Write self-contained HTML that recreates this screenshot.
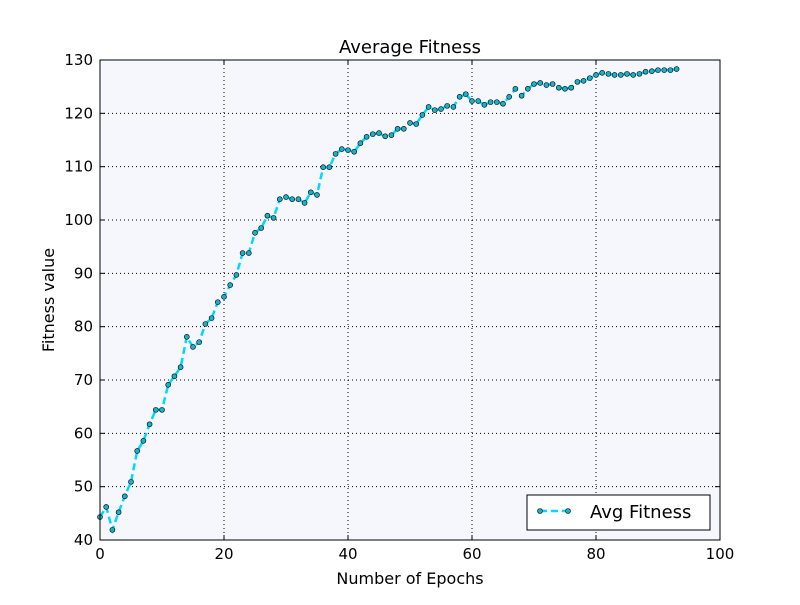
<!DOCTYPE html>
<html><head><meta charset="utf-8"><style>
body{margin:0;background:#fff}
svg text{font-family:"DejaVu Sans","Liberation Sans",sans-serif}
</style></head><body>
<svg id="chart" width="800" height="600" xmlns="http://www.w3.org/2000/svg">
<rect x="0" y="0" width="800" height="600" fill="#fff"/>
<rect x="100" y="60" width="620" height="480" fill="#f5f7fc"/>
<g id="grid"></g>
<g id="series"></g>
<rect x="100" y="60" width="620" height="480" fill="none" stroke="#000" stroke-width="1"/>
<g id="ticks"></g>
<text x="410" y="53" font-size="18" text-anchor="middle">Average Fitness</text>
<text x="410" y="584" font-size="16" text-anchor="middle">Number of Epochs</text>
<text x="54" y="300" font-size="16" text-anchor="middle" transform="rotate(-90 54 300)">Fitness value</text>
<g>
<rect x="527" y="495" width="183" height="35" fill="#fff" stroke="#000"/>
<line x1="540" y1="511" x2="568" y2="511" stroke="#00d8ff" stroke-width="2.5" stroke-dasharray="7,4"/>
<circle cx="540" cy="511" r="2.5" fill="#1ab0c8" stroke="#000" stroke-width="0.6"/>
<circle cx="568" cy="511" r="2.5" fill="#1ab0c8" stroke="#000" stroke-width="0.6"/>
<text x="590" y="518" font-size="18">Avg Fitness</text>
</g>
</svg>
<script>
const fitness=[44.3,46.2,41.9,45.2,48.2,50.9,56.7,58.6,61.7,64.4,64.4,69.1,70.7,72.4,78.1,76.2,77.1,80.5,81.6,84.6,85.6,87.8,89.7,93.8,93.8,97.6,98.5,100.8,100.4,103.9,104.3,103.9,103.9,103.2,105.2,104.7,109.9,109.9,112.4,113.3,113.1,112.8,114.4,115.6,116.1,116.3,115.7,115.9,117.1,117.1,118.2,118.0,119.7,121.2,120.6,120.8,121.4,121.2,123.1,123.6,122.3,122.3,121.6,122.1,122.1,121.8,123.1,124.6,123.3,124.6,125.5,125.7,125.3,125.5,124.8,124.6,124.8,125.9,126.1,126.6,127.2,127.6,127.4,127.2,127.2,127.4,127.2,127.4,127.8,127.9,128.1,128.1,128.1,128.3];
const xTicks=[0,20,40,60,80,100];
const yTicks=[40,50,60,70,80,90,100,110,120,130];
const NS="http://www.w3.org/2000/svg";
const X=v=>100+v*6.2, Y=v=>540-(v-40)*480/90;
function mk(t,a,p){const e=document.createElementNS(NS,t);for(const k in a)e.setAttribute(k,a[k]);p.appendChild(e);return e;}
const grid=document.getElementById('grid'),ticks=document.getElementById('ticks'),ser=document.getElementById('series');
xTicks.forEach(v=>{
 if(v>0&&v<100){const g=mk('line',{x1:X(v),x2:X(v),y1:60,y2:540,stroke:'#000','stroke-dasharray':'1,3','stroke-width':1},grid);
 
 }
 mk('line',{x1:X(v),x2:X(v),y1:540,y2:535,stroke:'#000'},ticks);
 mk('line',{x1:X(v),x2:X(v),y1:60,y2:65,stroke:'#000'},ticks);
 const t=mk('text',{x:X(v),y:559,'font-size':15,'text-anchor':'middle'},ticks);t.textContent=v;
 
 
});
yTicks.forEach(v=>{
 if(v>40&&v<130){const g=mk('line',{x1:100,x2:720,y1:Y(v),y2:Y(v),stroke:'#000','stroke-dasharray':'1,3','stroke-width':1},grid);
 
 }
 mk('line',{x1:100,x2:105,y1:Y(v),y2:Y(v),stroke:'#000'},ticks);
 mk('line',{x1:715,x2:720,y1:Y(v),y2:Y(v),stroke:'#000'},ticks);
 const t=mk('text',{x:93,y:Y(v)+5,'font-size':15,'text-anchor':'end'},ticks);t.textContent=v;
 
 
});
const line=mk('polyline',{points:fitness.map((v,i)=>X(i)+','+Y(v)).join(' '),fill:'none',stroke:'#00d8ff','stroke-width':2.5,'stroke-dasharray':'7,4'},ser);


fitness.forEach((v,i)=>{const c=mk('circle',{cx:X(i),cy:Y(v),r:2.5,fill:'#1ab0c8',stroke:'#000','stroke-width':0.6},ser);
 
 });
</script>
</body></html>
